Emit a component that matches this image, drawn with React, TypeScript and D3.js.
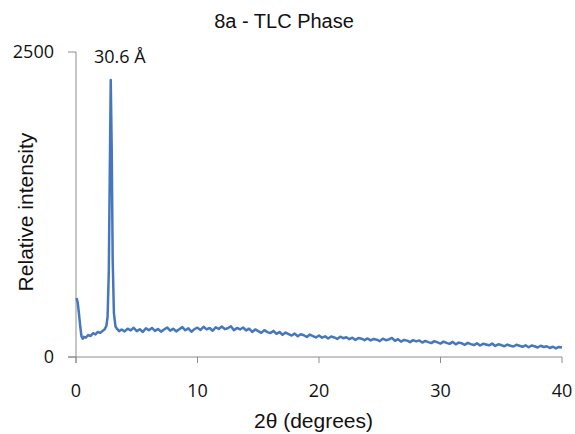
import React from "react";
import * as d3 from "d3";

// Data
const peakTheta = [0.05, 0.15, 0.25, 0.35, 0.45, 0.55, 0.65, 0.8, 1.0, 1.2, 1.4, 1.6, 1.8, 2.0, 2.2, 2.35, 2.5, 2.6, 2.7, 2.78, 2.86, 2.94, 3.02, 3.12, 3.25, 3.4, 3.55];
const peakIntensity = [484, 440, 350, 250, 170, 150, 165, 158, 180, 172, 195, 185, 205, 198, 215, 225, 255, 330, 700, 1500, 2270, 1700, 800, 360, 250, 228, 212];

const baseStart = 3.75;
const baseStep = 0.25;
const baseIntensity = [
  225, 210, 232, 218, 240, 212, 228, 205, 236,
  220, 238, 214, 230, 208, 226, 242, 216,
  232, 210, 228, 245, 219, 235, 207, 229,
  240, 222, 248, 226, 238, 215, 244, 230,
  250, 228, 236, 252, 220, 238, 226, 242,
  218, 232, 205, 226, 212, 198, 220, 204,
  196, 214, 190, 205, 182, 200, 188, 176,
  192, 170, 186, 178, 164, 184, 172, 160,
  176, 158, 170, 152, 168, 160, 148, 166,
  154, 162, 146, 158, 140, 156, 150, 138,
  152, 136, 148, 142, 130, 150, 138, 144,
  156, 132, 146, 126, 140, 134, 122, 138,
  128, 136, 118, 132, 122, 114, 130, 120,
  110, 126, 116, 108, 124, 104, 118, 112,
  100, 116, 106, 98, 112, 94, 108, 102,
  96, 110, 90, 104, 98, 88, 102, 92,
  86, 100, 92, 84, 96, 80, 94, 88,
  78, 92, 82, 88, 74, 84, 70, 82, 78,
];

const xTicks = [0, 10, 20, 30, 40];
const yTicks = [0, 2500];
const title = "8a - TLC Phase";
const peakLabel = "30.6 Å";
const xLabel = "2θ (degrees)";
const yLabel = "Relative intensity";

export default function App() {
  const W = 575, H = 434;
  const x = d3.scaleLinear().domain([0, 40]).range([76, 562]);
  const y = d3.scaleLinear().domain([0, 2500]).range([357, 52]);

  const points: [number, number][] = [
    ...peakTheta.map((t, i) => [t, peakIntensity[i]] as [number, number]),
    ...baseIntensity.map((v, i) => [baseStart + i * baseStep, v] as [number, number]),
  ];
  const line = d3.line<[number, number]>().x(d => x(d[0])).y(d => y(d[1]));

  const axisColor = "#8c8c8c";
  const tickFont = "'Open Sans', sans-serif";
  const labelFont = "'Liberation Sans', Arial, sans-serif";

  return (
    <svg width={W} height={H} style={{ position: "absolute", left: 0, top: 0, background: "#fff" }}>
      <text x={284} y={28} textAnchor="middle" fontFamily={labelFont} fontSize={20} fill="#111">{title}</text>
      {/* y axis */}
      <line x1={x(0)} x2={x(0)} y1={y(2500)} y2={y(0) + 6} stroke={axisColor} strokeWidth={1} />
      {yTicks.map(t => (
        <g key={t}>
          <line x1={x(0) - 8} x2={x(0)} y1={y(t)} y2={y(t)} stroke={axisColor} />
          <text x={x(0) - 22} y={y(t) + 6} textAnchor="end" fontFamily={tickFont} fontSize={18} fill="#111">{t}</text>
        </g>
      ))}
      {/* x axis */}
      <line x1={x(0) - 8} x2={x(40)} y1={y(0)} y2={y(0)} stroke={axisColor} />
      {xTicks.map(t => (
        <g key={t}>
          <line x1={x(t)} x2={x(t)} y1={y(0)} y2={y(0) + 6} stroke={axisColor} />
          <text x={x(t)} y={397} textAnchor="middle" fontFamily={tickFont} fontSize={18} fill="#111">{t}</text>
        </g>
      ))}
      <path d={line(points) ?? ""} fill="none" stroke="#4677be" strokeWidth={2.5} strokeLinejoin="round" />
      <text x={94} y={63} fontFamily={tickFont} fontSize={18} fill="#111">{peakLabel}</text>
      <text x={313.5} y={428} textAnchor="middle" fontFamily={labelFont} fontSize={21} fill="#111">{xLabel}</text>
      <text transform="translate(33,212) rotate(-90)" textAnchor="middle" fontFamily={labelFont} fontSize={21} fill="#111">{yLabel}</text>
    </svg>
  );
}
